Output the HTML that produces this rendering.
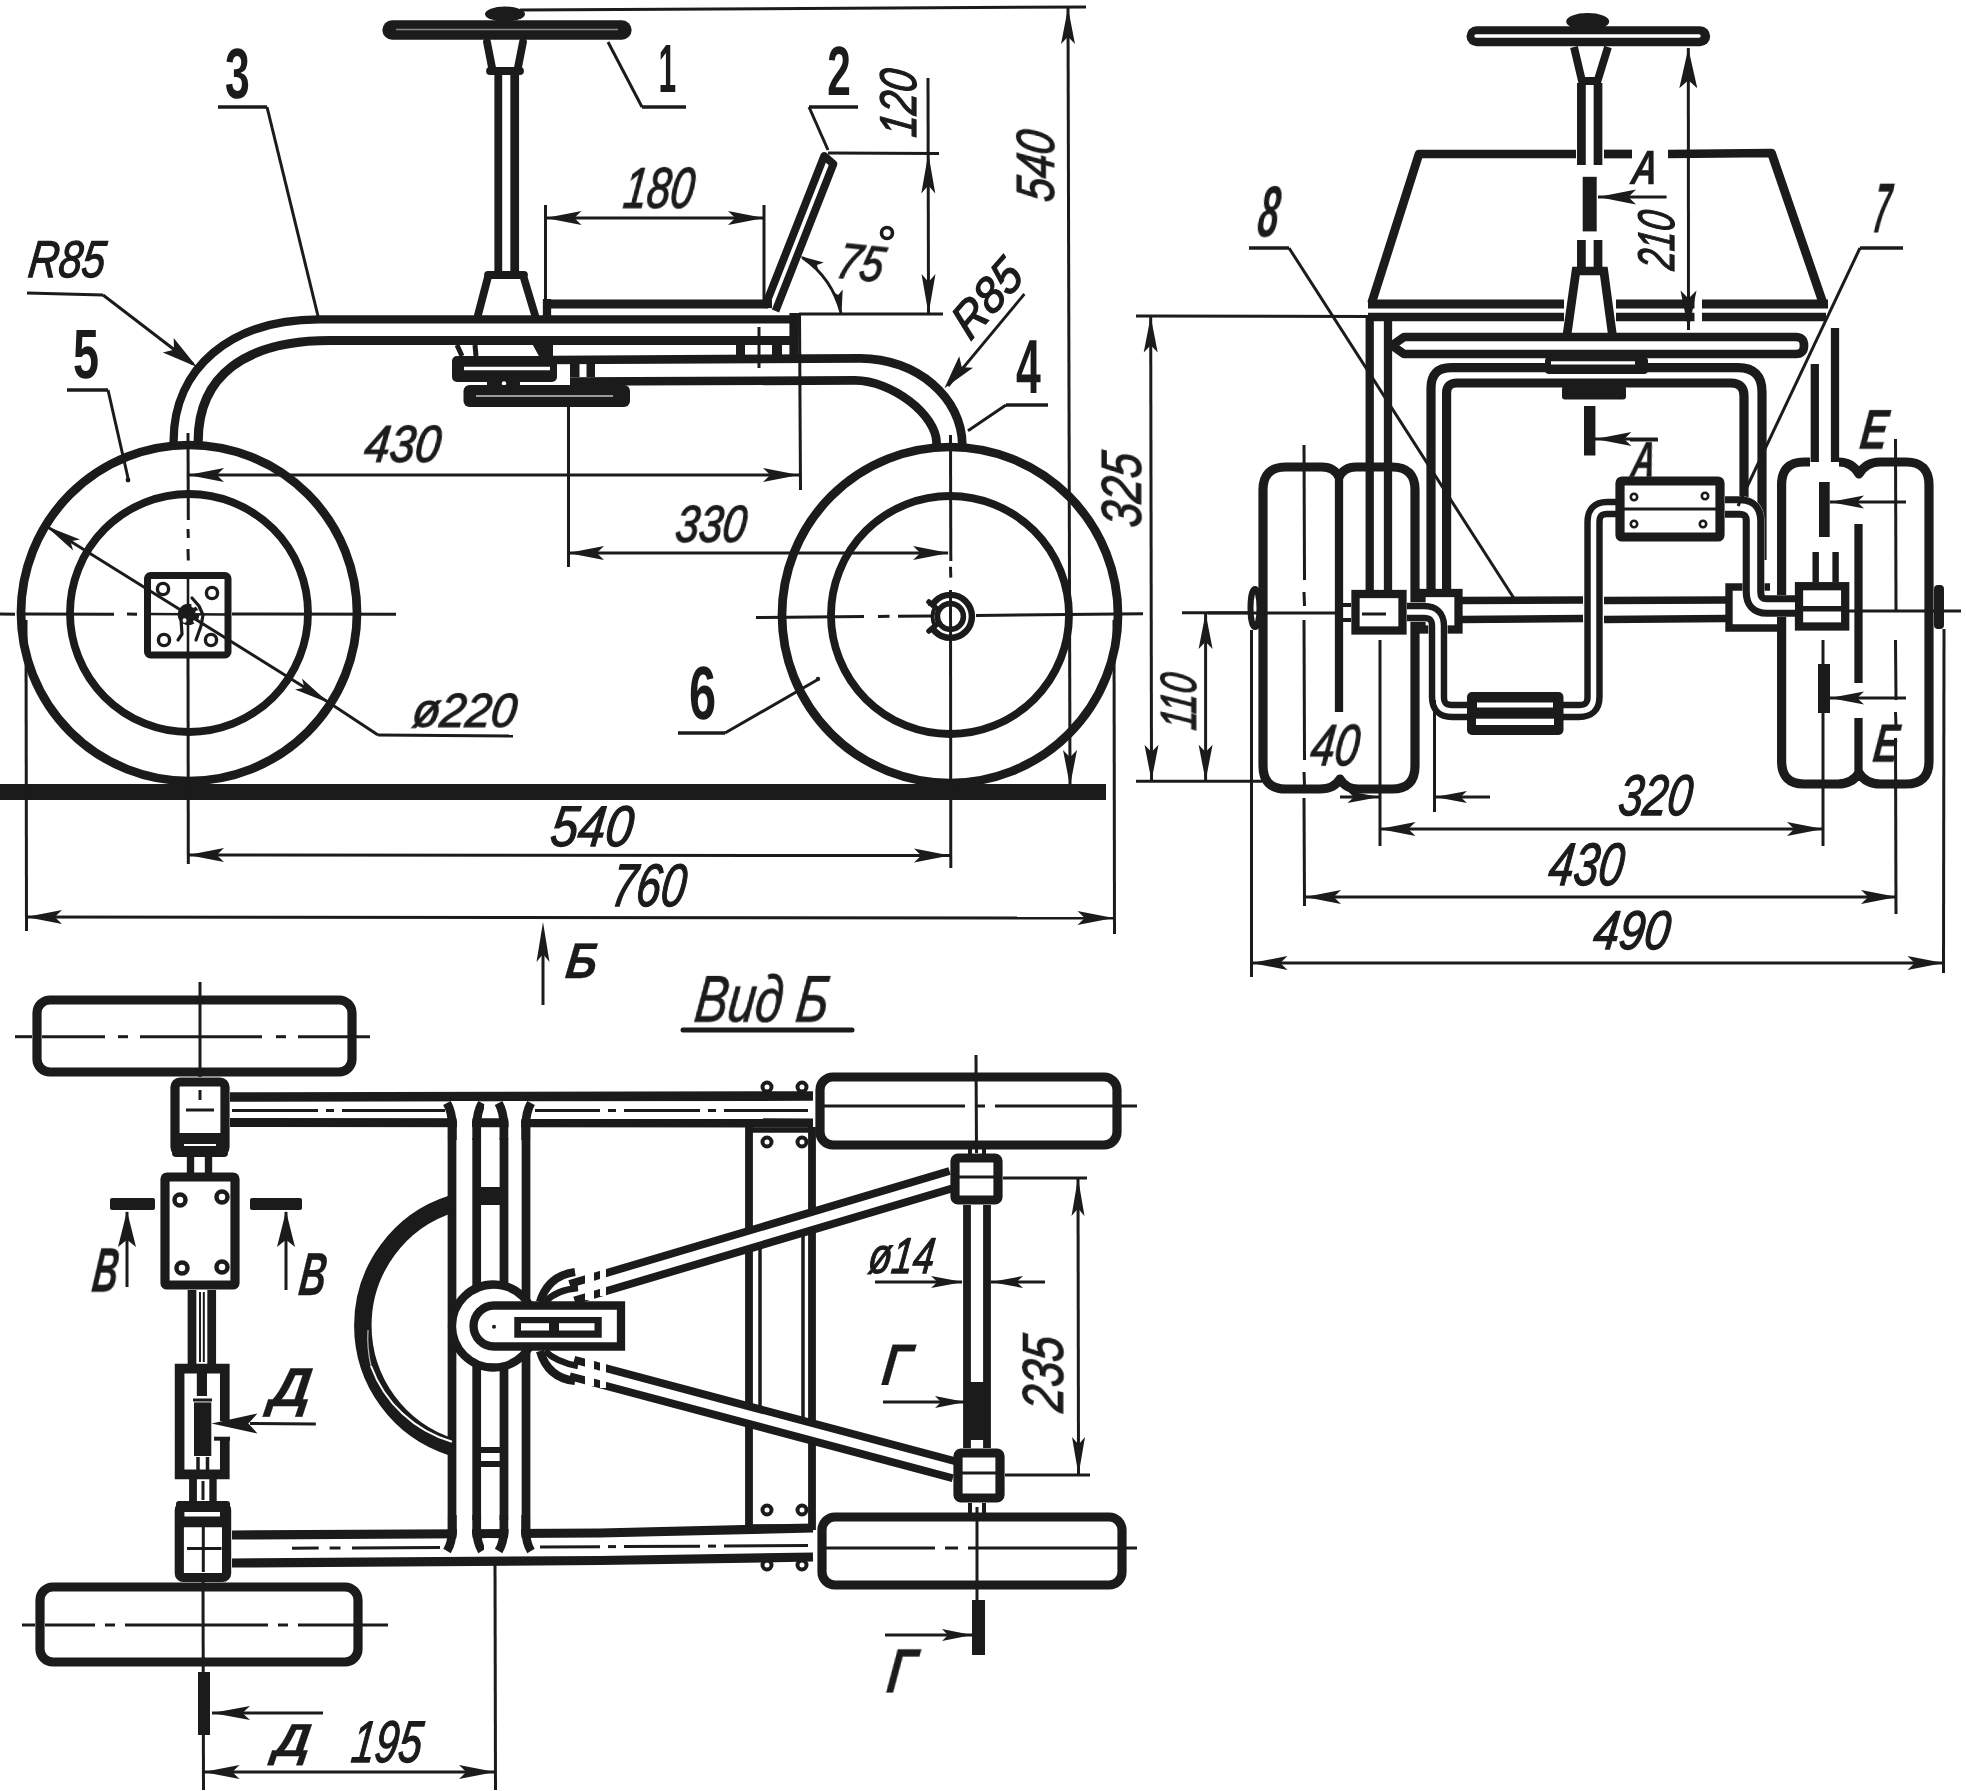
<!DOCTYPE html>
<html><head><meta charset="utf-8"><title>Drawing</title>
<style>
html,body{margin:0;padding:0;background:#fff;}
svg{display:block;font-family:"Liberation Sans",sans-serif;}
text{text-rendering:geometricPrecision;}
g.t{filter:grayscale(1);}
text{fill:#1b1b1b;}
</style></head>
<body>
<svg width="1966" height="1791" viewBox="0 0 1966 1791">
<rect width="1966" height="1791" fill="#fff"/>
<rect x="0.0" y="784.0" width="1106.0" height="16.0" rx="0" fill="#1b1b1b"/>
<circle cx="189.0" cy="613.0" r="168.0" fill="none" stroke="#1b1b1b" stroke-width="8.74"/>
<circle cx="189.0" cy="613.0" r="119.0" fill="none" stroke="#1b1b1b" stroke-width="7.82"/>
<circle cx="950.0" cy="615.0" r="168.0" fill="none" stroke="#1b1b1b" stroke-width="8.74"/>
<circle cx="950.0" cy="615.0" r="119.0" fill="none" stroke="#1b1b1b" stroke-width="7.82"/>
<rect x="147.5" y="575.5" width="80.5" height="79.5" rx="3" fill="none" stroke="#1b1b1b" stroke-width="6.99"/>
<circle cx="163.0" cy="589.0" r="5.6" fill="none" stroke="#1b1b1b" stroke-width="3.4"/>
<circle cx="212.0" cy="593.0" r="5.6" fill="none" stroke="#1b1b1b" stroke-width="3.4"/>
<circle cx="164.0" cy="640.0" r="5.6" fill="none" stroke="#1b1b1b" stroke-width="3.4"/>
<circle cx="211.0" cy="640.0" r="5.6" fill="none" stroke="#1b1b1b" stroke-width="3.4"/>
<circle cx="188.5" cy="614.5" r="8.0" fill="#1b1b1b" stroke="#1b1b1b" stroke-width="5.52"/>
<circle cx="193.5" cy="605.5" r="2.2" fill="#fff" stroke="none" stroke-width="0"/>
<circle cx="197.5" cy="612.5" r="2.2" fill="#fff" stroke="none" stroke-width="0"/>
<circle cx="195.5" cy="621.5" r="2.2" fill="#fff" stroke="none" stroke-width="0"/>
<circle cx="184.5" cy="620.5" r="2.2" fill="#fff" stroke="none" stroke-width="0"/>
<path d="M192 598 L199 606 L203 615 L201 626 L196 640" fill="none" stroke="#1b1b1b" stroke-width="3.2" stroke-linejoin="round" stroke-linecap="round"/>
<path d="M181 620 L182 634 L178 640" fill="none" stroke="#1b1b1b" stroke-width="3.2" stroke-linejoin="round" stroke-linecap="round"/>
<circle cx="950.4" cy="616.4" r="21.5" fill="none" stroke="#1b1b1b" stroke-width="6.44"/>
<circle cx="950.4" cy="616.4" r="13.0" fill="none" stroke="#1b1b1b" stroke-width="5.52"/>
<rect x="923.0" y="606.0" width="10.5" height="22.0" rx="0" fill="#fff"/>
<path d="M929 602 L936 608 M929 631 L936 625" fill="none" stroke="#1b1b1b" stroke-width="5.52" stroke-linejoin="round" stroke-linecap="round"/>
<path d="M935 607 Q930 616.5 935 626" fill="none" stroke="#1b1b1b" stroke-width="4" stroke-linejoin="round" stroke-linecap="round"/>
<line x1="0.0" y1="614.0" x2="15.0" y2="614.3" stroke="#1b1b1b" stroke-width="3.0" stroke-linecap="butt"/>
<line x1="25.0" y1="614.0" x2="114.0" y2="614.3" stroke="#1b1b1b" stroke-width="3.0" stroke-linecap="butt"/>
<line x1="127.0" y1="614.0" x2="137.0" y2="614.3" stroke="#1b1b1b" stroke-width="3.0" stroke-linecap="butt"/>
<line x1="232.0" y1="614.0" x2="396.0" y2="614.3" stroke="#1b1b1b" stroke-width="3.0" stroke-linecap="butt"/>
<line x1="188.0" y1="433.0" x2="188.3" y2="520.0" stroke="#1b1b1b" stroke-width="3.0" stroke-linecap="butt"/>
<line x1="188.0" y1="529.0" x2="188.3" y2="538.0" stroke="#1b1b1b" stroke-width="3.0" stroke-linecap="butt"/>
<line x1="188.0" y1="549.0" x2="188.3" y2="560.5" stroke="#1b1b1b" stroke-width="3.0" stroke-linecap="butt"/>
<line x1="188.0" y1="655.0" x2="188.3" y2="864.0" stroke="#1b1b1b" stroke-width="3.0" stroke-linecap="butt"/>
<line x1="148.0" y1="614.0" x2="228.0" y2="614.5" stroke="#1b1b1b" stroke-width="2.6" stroke-linecap="butt"/>
<line x1="188.0" y1="576.0" x2="188.0" y2="655.0" stroke="#1b1b1b" stroke-width="2.6" stroke-linecap="butt"/>
<line x1="756.0" y1="617.6" x2="864.0" y2="616.5" stroke="#1b1b1b" stroke-width="3.0" stroke-linecap="butt"/>
<line x1="878.0" y1="616.4" x2="889.5" y2="616.3" stroke="#1b1b1b" stroke-width="3.0" stroke-linecap="butt"/>
<line x1="898.0" y1="616.2" x2="932.0" y2="615.9" stroke="#1b1b1b" stroke-width="3.0" stroke-linecap="butt"/>
<line x1="976.0" y1="615.4" x2="1143.0" y2="613.8" stroke="#1b1b1b" stroke-width="3.0" stroke-linecap="butt"/>
<line x1="950.5" y1="435.0" x2="950.8" y2="561.0" stroke="#1b1b1b" stroke-width="3.0" stroke-linecap="butt"/>
<line x1="950.5" y1="566.7" x2="950.8" y2="577.6" stroke="#1b1b1b" stroke-width="3.0" stroke-linecap="butt"/>
<line x1="950.5" y1="590.0" x2="950.8" y2="868.0" stroke="#1b1b1b" stroke-width="3.0" stroke-linecap="butt"/>
<line x1="46.0" y1="526.0" x2="328.0" y2="702.0" stroke="#1b1b1b" stroke-width="3" stroke-linecap="butt"/>
<line x1="328.0" y1="702.0" x2="378.0" y2="735.0" stroke="#1b1b1b" stroke-width="3" stroke-linecap="butt"/>
<line x1="378.0" y1="735.0" x2="513.0" y2="736.0" stroke="#1b1b1b" stroke-width="3" stroke-linecap="butt"/>
<polygon points="46.0,526.0 80.0,539.5 70.4,541.2 73.1,550.6" fill="#1b1b1b"/>
<polygon points="329.0,703.0 295.0,689.5 304.6,687.8 301.9,678.4" fill="#1b1b1b"/>
<line x1="392.0" y1="30.0" x2="622.0" y2="30.0" stroke="#1b1b1b" stroke-width="19.32" stroke-linecap="round"/>
<line x1="396.0" y1="29.5" x2="618.0" y2="29.5" stroke="#8a8a8a" stroke-width="1.6" stroke-linecap="butt"/>
<ellipse cx="505.0" cy="14.0" rx="20.0" ry="7.5" fill="#1b1b1b" stroke="#1b1b1b" stroke-width="0"/>
<path d="M487 42 L492.5 70 M523 42 L517.5 70 M490 71 L520 71" fill="none" stroke="#1b1b1b" stroke-width="7.82" stroke-linejoin="round" stroke-linecap="round"/>
<line x1="498.3" y1="72.0" x2="498.3" y2="275.0" stroke="#1b1b1b" stroke-width="7.82" stroke-linecap="butt"/>
<line x1="514.7" y1="72.0" x2="514.7" y2="275.0" stroke="#1b1b1b" stroke-width="8.74" stroke-linecap="butt"/>
<path d="M488 275 L524 275 M488.5 275 L478 315 M523 275 L535 315" fill="none" stroke="#1b1b1b" stroke-width="7.82" stroke-linejoin="round" stroke-linecap="round"/>
<path d="M798 319.3 L319 319.3 C231 319.3 173.6 368 173.6 441 L173.6 447" fill="none" stroke="#1b1b1b" stroke-width="8.28" stroke-linejoin="round" stroke-linecap="butt"/>
<path d="M790 340.5 L330 340.5 C245 340.5 198.2 376 198.2 441 L198.2 447" fill="none" stroke="#1b1b1b" stroke-width="9.2" stroke-linejoin="round" stroke-linecap="butt"/>
<line x1="794.0" y1="313.0" x2="794.0" y2="359.0" stroke="#1b1b1b" stroke-width="9.2" stroke-linecap="butt"/>
<line x1="547.0" y1="299.0" x2="547.0" y2="318.0" stroke="#1b1b1b" stroke-width="8.28" stroke-linecap="butt"/>
<line x1="545.0" y1="304.0" x2="768.0" y2="304.0" stroke="#1b1b1b" stroke-width="9.2" stroke-linecap="butt"/>
<path d="M766.3 303 L824.2 156 L833.4 164 L775.5 311" fill="none" stroke="#1b1b1b" stroke-width="7.82" stroke-linejoin="round" stroke-linecap="butt"/>
<path d="M764 304 L772 304" fill="none" stroke="#1b1b1b" stroke-width="8.28" stroke-linejoin="round" stroke-linecap="butt"/>
<path d="M552 360 L860 358.3 C916.5 358.3 962.3 397.3 962.3 445.3 L962.3 449" fill="none" stroke="#1b1b1b" stroke-width="8.74" stroke-linejoin="round" stroke-linecap="butt"/>
<path d="M570 381.5 L855 380.4 C891.7 380.4 936.6 414.8 936.6 443 L936.6 449" fill="none" stroke="#1b1b1b" stroke-width="8.74" stroke-linejoin="round" stroke-linecap="butt"/>
<rect x="736.0" y="344.0" width="9.0" height="12.0" rx="0" fill="#1b1b1b"/>
<rect x="772.0" y="344.0" width="10.0" height="12.0" rx="0" fill="#1b1b1b"/>
<line x1="759.0" y1="327.0" x2="759.0" y2="368.0" stroke="#1b1b1b" stroke-width="3" stroke-linecap="butt"/>
<rect x="570.0" y="364.0" width="9.5" height="13.0" rx="0" fill="#1b1b1b"/>
<rect x="586.5" y="364.0" width="8.5" height="13.0" rx="0" fill="#1b1b1b"/>
<path d="M457 345 L462 356 M475 345 L476 356" fill="none" stroke="#1b1b1b" stroke-width="5" stroke-linejoin="round" stroke-linecap="butt"/>
<path d="M534 345 L552 345 L552 356 L540 356 Z" fill="#1b1b1b" stroke="#1b1b1b" stroke-width="2" stroke-linejoin="round" stroke-linecap="round"/>
<rect x="452.0" y="356.0" width="105.0" height="26.0" rx="5" fill="#1b1b1b"/>
<line x1="464.0" y1="368.5" x2="550.0" y2="368.5" stroke="#fff" stroke-width="3.4" stroke-linecap="butt"/>
<rect x="487.0" y="381.0" width="33.0" height="6.0" rx="0" fill="#1b1b1b"/>
<circle cx="504.0" cy="383.5" r="2.2" fill="#fff" stroke="none" stroke-width="0"/>
<rect x="463.5" y="385.0" width="166.5" height="22.0" rx="6" fill="#1b1b1b"/>
<line x1="476.0" y1="396.0" x2="613.0" y2="396.0" stroke="#9a9a9a" stroke-width="1.8" stroke-linecap="butt"/>
<line x1="188.0" y1="475.0" x2="799.0" y2="475.0" stroke="#1b1b1b" stroke-width="3.0" stroke-linecap="butt"/>
<polygon points="188.0,475.0 224.0,468.0 216.8,475.0 224.0,482.0" fill="#1b1b1b"/>
<polygon points="799.0,475.0 763.0,482.0 770.2,475.0 763.0,468.0" fill="#1b1b1b"/>
<line x1="799.5" y1="313.0" x2="800.5" y2="490.0" stroke="#1b1b1b" stroke-width="3.0" stroke-linecap="butt"/>
<line x1="568.5" y1="405.0" x2="568.5" y2="567.0" stroke="#1b1b1b" stroke-width="3.0" stroke-linecap="butt"/>
<line x1="568.0" y1="553.0" x2="948.0" y2="553.0" stroke="#1b1b1b" stroke-width="3.0" stroke-linecap="butt"/>
<polygon points="568.0,553.0 604.0,546.0 596.8,553.0 604.0,560.0" fill="#1b1b1b"/>
<polygon points="949.0,553.0 913.0,560.0 920.2,553.0 913.0,546.0" fill="#1b1b1b"/>
<line x1="545.5" y1="205.0" x2="545.5" y2="300.0" stroke="#1b1b1b" stroke-width="3.0" stroke-linecap="butt"/>
<line x1="764.0" y1="205.0" x2="764.0" y2="300.0" stroke="#1b1b1b" stroke-width="3.0" stroke-linecap="butt"/>
<line x1="545.0" y1="218.0" x2="764.0" y2="218.0" stroke="#1b1b1b" stroke-width="3.0" stroke-linecap="butt"/>
<polygon points="545.5,218.0 581.5,211.0 574.3,218.0 581.5,225.0" fill="#1b1b1b"/>
<polygon points="764.0,218.0 728.0,225.0 735.2,218.0 728.0,211.0" fill="#1b1b1b"/>
<line x1="188.0" y1="855.0" x2="950.0" y2="855.5" stroke="#1b1b1b" stroke-width="3.0" stroke-linecap="butt"/>
<polygon points="188.0,855.0 224.0,848.0 216.8,855.0 224.0,862.0" fill="#1b1b1b"/>
<polygon points="950.0,855.5 914.0,862.5 921.2,855.5 914.0,848.5" fill="#1b1b1b"/>
<line x1="26.0" y1="620.0" x2="26.5" y2="931.0" stroke="#1b1b1b" stroke-width="3.0" stroke-linecap="butt"/>
<line x1="1114.0" y1="620.0" x2="1114.5" y2="934.0" stroke="#1b1b1b" stroke-width="3.0" stroke-linecap="butt"/>
<line x1="26.0" y1="917.0" x2="1113.0" y2="918.0" stroke="#1b1b1b" stroke-width="3.0" stroke-linecap="butt"/>
<polygon points="26.0,917.0 62.0,910.0 54.8,917.0 62.0,924.0" fill="#1b1b1b"/>
<polygon points="1113.5,918.0 1077.5,925.0 1084.7,918.0 1077.5,911.0" fill="#1b1b1b"/>
<line x1="520.0" y1="10.0" x2="1086.0" y2="7.0" stroke="#1b1b1b" stroke-width="3.0" stroke-linecap="butt"/>
<line x1="1068.0" y1="8.0" x2="1070.0" y2="786.0" stroke="#1b1b1b" stroke-width="3.0" stroke-linecap="butt"/>
<polygon points="1068.0,8.0 1075.0,44.0 1068.0,36.8 1061.0,44.0" fill="#1b1b1b"/>
<polygon points="1070.0,786.0 1063.0,750.0 1070.0,757.2 1077.0,750.0" fill="#1b1b1b"/>
<line x1="828.0" y1="153.0" x2="939.0" y2="153.5" stroke="#1b1b1b" stroke-width="3.0" stroke-linecap="butt"/>
<line x1="799.0" y1="314.0" x2="943.0" y2="314.0" stroke="#1b1b1b" stroke-width="3.0" stroke-linecap="butt"/>
<line x1="928.0" y1="78.0" x2="928.5" y2="314.0" stroke="#1b1b1b" stroke-width="3.0" stroke-linecap="butt"/>
<polygon points="928.3,153.5 935.3,193.5 928.3,185.5 921.3,193.5" fill="#1b1b1b"/>
<polygon points="928.5,314.0 921.5,274.0 928.5,282.0 935.5,274.0" fill="#1b1b1b"/>
<path d="M803 258 Q832 278 841 313" fill="none" stroke="#1b1b1b" stroke-width="2.8" stroke-linejoin="round" stroke-linecap="round"/>
<polygon points="800.0,256.0 823.8,262.4 817.0,265.0 818.6,272.1" fill="#1b1b1b"/>
<polygon points="841.5,314.0 831.9,291.3 838.2,295.1 842.7,289.4" fill="#1b1b1b"/>
<circle cx="887.0" cy="233.0" r="5.5" fill="none" stroke="#1b1b1b" stroke-width="3.6"/>
<line x1="1024.4" y1="294.0" x2="948.0" y2="386.0" stroke="#1b1b1b" stroke-width="2.8" stroke-linecap="butt"/>
<polygon points="944.4,388.2 959.2,356.3 961.8,367.3 973.0,367.8" fill="#1b1b1b"/>
<line x1="27.0" y1="293.0" x2="103.0" y2="295.0" stroke="#1b1b1b" stroke-width="3" stroke-linecap="butt"/>
<line x1="103.0" y1="295.0" x2="193.0" y2="364.0" stroke="#1b1b1b" stroke-width="3" stroke-linecap="butt"/>
<polygon points="197.0,367.0 162.8,352.5 174.0,349.7 173.7,338.1" fill="#1b1b1b"/>
<line x1="218.0" y1="107.0" x2="267.0" y2="107.0" stroke="#1b1b1b" stroke-width="3.4" stroke-linecap="butt"/>
<line x1="267.0" y1="107.0" x2="318.0" y2="316.0" stroke="#1b1b1b" stroke-width="3" stroke-linecap="butt"/>
<line x1="67.0" y1="390.0" x2="108.0" y2="390.0" stroke="#1b1b1b" stroke-width="3.4" stroke-linecap="butt"/>
<line x1="108.0" y1="390.0" x2="128.0" y2="478.0" stroke="#1b1b1b" stroke-width="3" stroke-linecap="butt"/>
<circle cx="128.0" cy="480.0" r="2.4" fill="#1b1b1b" stroke="#1b1b1b" stroke-width="0"/>
<line x1="642.0" y1="107.0" x2="686.0" y2="107.0" stroke="#1b1b1b" stroke-width="3.4" stroke-linecap="butt"/>
<line x1="642.0" y1="107.0" x2="608.0" y2="42.0" stroke="#1b1b1b" stroke-width="3" stroke-linecap="butt"/>
<line x1="809.0" y1="107.0" x2="858.0" y2="107.0" stroke="#1b1b1b" stroke-width="3.4" stroke-linecap="butt"/>
<line x1="809.0" y1="107.0" x2="828.0" y2="150.0" stroke="#1b1b1b" stroke-width="3" stroke-linecap="butt"/>
<line x1="1006.0" y1="405.0" x2="1048.0" y2="405.0" stroke="#1b1b1b" stroke-width="3.4" stroke-linecap="butt"/>
<line x1="1006.0" y1="405.0" x2="968.0" y2="430.7" stroke="#1b1b1b" stroke-width="3" stroke-linecap="butt"/>
<line x1="678.0" y1="733.0" x2="725.0" y2="733.0" stroke="#1b1b1b" stroke-width="3.4" stroke-linecap="butt"/>
<line x1="725.0" y1="733.0" x2="817.0" y2="680.0" stroke="#1b1b1b" stroke-width="3" stroke-linecap="butt"/>
<circle cx="818.0" cy="679.0" r="2.2" fill="#1b1b1b" stroke="#1b1b1b" stroke-width="0"/>
<line x1="1136.0" y1="316.0" x2="1368.0" y2="316.5" stroke="#1b1b1b" stroke-width="3.0" stroke-linecap="butt"/>
<line x1="1150.7" y1="317.0" x2="1151.5" y2="780.0" stroke="#1b1b1b" stroke-width="3.0" stroke-linecap="butt"/>
<polygon points="1150.7,316.5 1157.7,352.5 1150.7,345.3 1143.7,352.5" fill="#1b1b1b"/>
<polygon points="1151.5,780.8 1144.5,744.8 1151.5,752.0 1158.5,744.8" fill="#1b1b1b"/>
<line x1="1182.0" y1="612.7" x2="1248.0" y2="612.7" stroke="#1b1b1b" stroke-width="3.0" stroke-linecap="butt"/>
<line x1="1136.0" y1="781.3" x2="1262.0" y2="781.3" stroke="#1b1b1b" stroke-width="3.0" stroke-linecap="butt"/>
<line x1="1205.6" y1="614.0" x2="1205.6" y2="780.0" stroke="#1b1b1b" stroke-width="3.0" stroke-linecap="butt"/>
<polygon points="1205.6,613.0 1212.6,649.0 1205.6,641.8 1198.6,649.0" fill="#1b1b1b"/>
<polygon points="1205.6,780.8 1198.6,744.8 1205.6,752.0 1212.6,744.8" fill="#1b1b1b"/>
<line x1="1476.5" y1="36.2" x2="1700.2" y2="36.2" stroke="#1b1b1b" stroke-width="19.87" stroke-linecap="round"/>
<line x1="1476.0" y1="36.0" x2="1699.0" y2="36.0" stroke="#fff" stroke-width="3.4" stroke-linecap="round"/>
<ellipse cx="1587.7" cy="21.5" rx="21.5" ry="8.5" fill="#1b1b1b" stroke="#1b1b1b" stroke-width="0"/>
<path d="M1574 47 L1582 81 L1597.5 81 L1608 47" fill="none" stroke="#1b1b1b" stroke-width="7.82" stroke-linejoin="miter" stroke-linecap="butt"/>
<path d="M1581.4 83 L1581.4 165 M1598 83 L1598 165" fill="none" stroke="#1b1b1b" stroke-width="8.74" stroke-linejoin="round" stroke-linecap="butt"/>
<rect x="1582.7" y="176.8" width="14.0" height="54.6" rx="0" fill="#1b1b1b"/>
<path d="M1581.4 240 L1581.4 270 M1598 240 L1598 270" fill="none" stroke="#1b1b1b" stroke-width="8.74" stroke-linejoin="round" stroke-linecap="butt"/>
<path d="M1566.7 337 L1576 271 L1603.8 271 L1612.7 337" fill="none" stroke="#1b1b1b" stroke-width="8.74" stroke-linejoin="miter" stroke-linecap="butt"/>
<path d="M1576 154 L1419 154 L1371.6 303" fill="none" stroke="#1b1b1b" stroke-width="8.74" stroke-linejoin="round" stroke-linecap="butt"/>
<line x1="1604.0" y1="154.0" x2="1632.0" y2="154.0" stroke="#1b1b1b" stroke-width="8.74" stroke-linecap="butt"/>
<path d="M1668 154 L1771.5 153 L1823 303" fill="none" stroke="#1b1b1b" stroke-width="8.74" stroke-linejoin="round" stroke-linecap="butt"/>
<line x1="1368.0" y1="304.0" x2="1564.0" y2="304.0" stroke="#1b1b1b" stroke-width="9.2" stroke-linecap="butt"/>
<line x1="1616.0" y1="304.0" x2="1694.5" y2="304.0" stroke="#1b1b1b" stroke-width="9.2" stroke-linecap="butt"/>
<line x1="1702.0" y1="304.0" x2="1828.0" y2="304.0" stroke="#1b1b1b" stroke-width="9.2" stroke-linecap="butt"/>
<line x1="1368.0" y1="317.0" x2="1564.0" y2="317.0" stroke="#1b1b1b" stroke-width="8.74" stroke-linecap="butt"/>
<line x1="1616.0" y1="317.0" x2="1694.5" y2="317.0" stroke="#1b1b1b" stroke-width="8.74" stroke-linecap="butt"/>
<line x1="1702.0" y1="317.0" x2="1826.0" y2="317.0" stroke="#1b1b1b" stroke-width="8.74" stroke-linecap="butt"/>
<path d="M1392 345.5 L1404 337 L1796 337 Q1804 337 1804 345.5 Q1804 354 1796 354 L1404 354 Z" fill="none" stroke="#1b1b1b" stroke-width="8.74" stroke-linejoin="round" stroke-linecap="round"/>
<path d="M1369.7 316 L1369.7 591 M1388 320 L1388 591" fill="none" stroke="#1b1b1b" stroke-width="8.28" stroke-linejoin="round" stroke-linecap="butt"/>
<path d="M1814.8 364 L1814.8 462 M1835 328 L1835 462" fill="none" stroke="#1b1b1b" stroke-width="8.28" stroke-linejoin="round" stroke-linecap="butt"/>
<path d="M1431 591 L1431 388 Q1431 367.7 1451 367.7 L1738 367.7 Q1762 367.7 1762 392 L1762 560" fill="none" stroke="#1b1b1b" stroke-width="9.2" stroke-linejoin="round" stroke-linecap="butt"/>
<path d="M1446.6 591 L1446.6 393 Q1446.6 383 1457 383 L1731 383 Q1744 383 1744 396 L1744 500" fill="none" stroke="#1b1b1b" stroke-width="9.2" stroke-linejoin="round" stroke-linecap="butt"/>
<rect x="1545.0" y="357.0" width="103.0" height="17.0" rx="4" fill="#1b1b1b"/>
<line x1="1551.0" y1="362.8" x2="1635.0" y2="362.8" stroke="#fff" stroke-width="3.2" stroke-linecap="butt"/>
<rect x="1562.0" y="386.0" width="64.0" height="13.5" rx="3" fill="#1b1b1b"/>
<rect x="1584.0" y="406.0" width="11.4" height="49.5" rx="0" fill="#1b1b1b"/>
<line x1="1595.0" y1="439.0" x2="1657.7" y2="439.0" stroke="#1b1b1b" stroke-width="3" stroke-linecap="butt"/>
<polygon points="1595.4,439.0 1631.4,432.0 1624.2,439.0 1631.4,446.0" fill="#1b1b1b"/>
<line x1="1630.0" y1="440.0" x2="1658.0" y2="440.0" stroke="#1b1b1b" stroke-width="3" stroke-linecap="butt"/>
<line x1="1598.0" y1="197.0" x2="1666.6" y2="197.0" stroke="#1b1b1b" stroke-width="3" stroke-linecap="butt"/>
<polygon points="1598.0,197.0 1636.0,189.5 1628.4,197.0 1636.0,204.5" fill="#1b1b1b"/>
<line x1="1688.3" y1="48.0" x2="1688.5" y2="330.0" stroke="#1b1b1b" stroke-width="3.0" stroke-linecap="butt"/>
<polygon points="1688.3,48.3 1697.3,88.3 1688.3,80.3 1679.3,88.3" fill="#1b1b1b"/>
<polygon points="1688.5,330.6 1680.5,290.6 1688.5,298.6 1696.5,290.6" fill="#1b1b1b"/>
<path d="M1263 490 Q1263 467 1286 467 L1322 467 Q1334 467 1339 477 Q1344 467 1356 467 L1392 467 Q1415 467 1415 490 L1415 766 Q1415 789 1392 789 L1358 789 Q1346 789 1340 779 Q1334 789 1320 789 L1286 789 Q1263 789 1263 766 Z" fill="none" stroke="#1b1b1b" stroke-width="9.2" stroke-linejoin="round" stroke-linecap="round"/>
<line x1="1339.0" y1="476.0" x2="1339.0" y2="712.0" stroke="#1b1b1b" stroke-width="8.28" stroke-linecap="butt"/>
<path d="M1810 462 L1804 462 Q1781.6 462 1781.6 485 L1781.6 761 Q1781.6 784 1804 784 L1838 784 Q1852 784 1859 773 Q1866 784 1880 784 L1906 784 Q1929 784 1929 761 L1929 485 Q1929 462 1906 462 L1880 462 Q1866 462 1859 474 Q1852 462 1839 462" fill="none" stroke="#1b1b1b" stroke-width="9.2" stroke-linejoin="round" stroke-linecap="butt"/>
<line x1="1858.5" y1="524.0" x2="1858.5" y2="683.0" stroke="#1b1b1b" stroke-width="8.28" stroke-linecap="butt"/>
<line x1="1858.5" y1="718.0" x2="1858.5" y2="776.0" stroke="#1b1b1b" stroke-width="8.28" stroke-linecap="butt"/>
<line x1="1304.0" y1="445.0" x2="1304.5" y2="580.0" stroke="#1b1b1b" stroke-width="3.0" stroke-linecap="butt"/>
<line x1="1304.0" y1="592.0" x2="1304.5" y2="606.0" stroke="#1b1b1b" stroke-width="3.0" stroke-linecap="butt"/>
<line x1="1304.0" y1="620.0" x2="1304.5" y2="760.0" stroke="#1b1b1b" stroke-width="3.0" stroke-linecap="butt"/>
<line x1="1304.0" y1="772.0" x2="1304.5" y2="786.0" stroke="#1b1b1b" stroke-width="3.0" stroke-linecap="butt"/>
<line x1="1304.0" y1="798.0" x2="1304.5" y2="906.0" stroke="#1b1b1b" stroke-width="3.0" stroke-linecap="butt"/>
<line x1="1895.5" y1="439.0" x2="1896.0" y2="612.0" stroke="#1b1b1b" stroke-width="3.0" stroke-linecap="butt"/>
<line x1="1895.5" y1="640.0" x2="1896.0" y2="700.0" stroke="#1b1b1b" stroke-width="3.0" stroke-linecap="butt"/>
<line x1="1895.5" y1="712.0" x2="1896.0" y2="726.0" stroke="#1b1b1b" stroke-width="3.0" stroke-linecap="butt"/>
<line x1="1895.5" y1="738.0" x2="1896.0" y2="914.0" stroke="#1b1b1b" stroke-width="3.0" stroke-linecap="butt"/>
<line x1="1208.0" y1="613.0" x2="1339.0" y2="613.0" stroke="#1b1b1b" stroke-width="3.0" stroke-linecap="butt"/>
<line x1="1849.0" y1="611.0" x2="1961.0" y2="611.0" stroke="#1b1b1b" stroke-width="3.0" stroke-linecap="butt"/>
<ellipse cx="1255.0" cy="608.0" rx="4.5" ry="19.0" fill="none" stroke="#1b1b1b" stroke-width="6"/>
<rect x="1934.0" y="585.0" width="10.0" height="44.0" rx="4" fill="#1b1b1b"/>
<line x1="1461.0" y1="600.5" x2="1583.0" y2="600.0" stroke="#1b1b1b" stroke-width="7.36" stroke-linecap="butt"/>
<line x1="1461.0" y1="619.5" x2="1583.0" y2="618.5" stroke="#1b1b1b" stroke-width="7.36" stroke-linecap="butt"/>
<line x1="1604.0" y1="600.5" x2="1726.0" y2="600.0" stroke="#1b1b1b" stroke-width="7.36" stroke-linecap="butt"/>
<line x1="1604.0" y1="619.5" x2="1726.0" y2="618.5" stroke="#1b1b1b" stroke-width="7.36" stroke-linecap="butt"/>
<rect x="1355.5" y="594.0" width="47.0" height="36.5" rx="0" fill="none" stroke="#1b1b1b" stroke-width="8.28"/>
<line x1="1362.0" y1="614.0" x2="1386.0" y2="614.0" stroke="#1b1b1b" stroke-width="3" stroke-linecap="butt"/>
<line x1="1339.0" y1="605.0" x2="1351.0" y2="605.0" stroke="#1b1b1b" stroke-width="4" stroke-linecap="butt"/>
<line x1="1339.0" y1="620.0" x2="1351.0" y2="620.0" stroke="#1b1b1b" stroke-width="4" stroke-linecap="butt"/>
<rect x="1421.5" y="593.0" width="37.0" height="36.5" rx="0" fill="none" stroke="#1b1b1b" stroke-width="8.28"/>
<path d="M1770 587 L1729 587 L1729 628 L1777 628" fill="none" stroke="#1b1b1b" stroke-width="7.36" stroke-linejoin="miter" stroke-linecap="butt"/>
<rect x="1799.0" y="586.2" width="46.2" height="40.3" rx="0" fill="none" stroke="#1b1b1b" stroke-width="8.28"/>
<line x1="1800.0" y1="608.7" x2="1845.0" y2="608.7" stroke="#1b1b1b" stroke-width="5.52" stroke-linecap="butt"/>
<path d="M1815.7 552 L1815.7 582 M1835.6 552 L1835.6 582" fill="none" stroke="#1b1b1b" stroke-width="6.44" stroke-linejoin="round" stroke-linecap="butt"/>
<path d="M1407 612 L1424 612 Q1438 612 1438 626 L1438 697 Q1438 711 1452 711 L1579 711 Q1593.5 711 1593.5 697 L1593.5 522 Q1593.5 508 1607 508 L1617 508" fill="none" stroke="#fff" stroke-width="19.32" stroke-linejoin="round" stroke-linecap="butt"/>
<path d="M1407 612 L1424 612 Q1438 612 1438 626 L1438 697 Q1438 711 1452 711 L1579 711 Q1593.5 711 1593.5 697 L1593.5 522 Q1593.5 508 1607 508 L1617 508" fill="none" stroke="#1b1b1b" stroke-width="18.4" stroke-linejoin="round" stroke-linecap="butt"/>
<path d="M1407 612 L1424 612 Q1438 612 1438 626 L1438 697 Q1438 711 1452 711 L1579 711 Q1593.5 711 1593.5 697 L1593.5 522 Q1593.5 508 1607 508 L1617 508" fill="none" stroke="#fff" stroke-width="5.52" stroke-linejoin="round" stroke-linecap="butt"/>
<path d="M1725 507 L1740 507 Q1753.5 507 1753.5 521 L1753.5 592 Q1753.5 606 1767 606 L1795 606" fill="none" stroke="#fff" stroke-width="22.08" stroke-linejoin="round" stroke-linecap="butt"/>
<path d="M1725 507 L1740 507 Q1753.5 507 1753.5 521 L1753.5 592 Q1753.5 606 1767 606 L1795 606" fill="none" stroke="#1b1b1b" stroke-width="21.62" stroke-linejoin="round" stroke-linecap="butt"/>
<path d="M1725 507 L1740 507 Q1753.5 507 1753.5 521 L1753.5 592 Q1753.5 606 1767 606 L1795 606" fill="none" stroke="#fff" stroke-width="7.36" stroke-linejoin="round" stroke-linecap="butt"/>
<rect x="1467.0" y="692.0" width="96.5" height="43.0" rx="5" fill="#1b1b1b"/>
<rect x="1477.0" y="702.5" width="76.0" height="5.0" rx="0" fill="#fff"/>
<rect x="1476.0" y="718.7" width="78.0" height="6.3" rx="0" fill="#fff"/>
<rect x="1620.0" y="481.0" width="100.0" height="56.0" rx="2" fill="none" stroke="#1b1b1b" stroke-width="9.2"/>
<line x1="1622.0" y1="509.0" x2="1718.0" y2="509.0" stroke="#1b1b1b" stroke-width="3" stroke-linecap="butt"/>
<circle cx="1634.0" cy="497.0" r="3.2" fill="none" stroke="#1b1b1b" stroke-width="2.6"/>
<circle cx="1705.0" cy="496.0" r="3.2" fill="none" stroke="#1b1b1b" stroke-width="2.6"/>
<circle cx="1634.0" cy="524.0" r="3.2" fill="none" stroke="#1b1b1b" stroke-width="2.6"/>
<circle cx="1703.0" cy="524.0" r="3.2" fill="none" stroke="#1b1b1b" stroke-width="2.6"/>
<rect x="1819.0" y="482.0" width="10.7" height="55.0" rx="0" fill="#1b1b1b"/>
<line x1="1830.0" y1="502.0" x2="1906.0" y2="502.0" stroke="#1b1b1b" stroke-width="3" stroke-linecap="butt"/>
<polygon points="1830.0,502.0 1864.0,495.5 1857.2,502.0 1864.0,508.5" fill="#1b1b1b"/>
<rect x="1818.0" y="664.0" width="12.0" height="49.0" rx="0" fill="#1b1b1b"/>
<line x1="1830.0" y1="698.0" x2="1906.0" y2="698.0" stroke="#1b1b1b" stroke-width="3" stroke-linecap="butt"/>
<polygon points="1830.0,698.0 1864.0,691.5 1857.2,698.0 1864.0,704.5" fill="#1b1b1b"/>
<line x1="1860.0" y1="248.0" x2="1903.0" y2="248.0" stroke="#1b1b1b" stroke-width="3.4" stroke-linecap="butt"/>
<line x1="1860.0" y1="248.0" x2="1738.0" y2="506.0" stroke="#1b1b1b" stroke-width="3" stroke-linecap="butt"/>
<line x1="1249.0" y1="248.0" x2="1289.0" y2="248.0" stroke="#1b1b1b" stroke-width="3.4" stroke-linecap="butt"/>
<line x1="1289.0" y1="248.0" x2="1513.6" y2="597.7" stroke="#1b1b1b" stroke-width="3" stroke-linecap="butt"/>
<line x1="1380.0" y1="640.0" x2="1380.0" y2="846.0" stroke="#1b1b1b" stroke-width="3.0" stroke-linecap="butt"/>
<line x1="1434.5" y1="700.0" x2="1434.5" y2="812.0" stroke="#1b1b1b" stroke-width="3.0" stroke-linecap="butt"/>
<line x1="1823.0" y1="640.0" x2="1823.0" y2="846.0" stroke="#1b1b1b" stroke-width="3.0" stroke-linecap="butt"/>
<line x1="1340.0" y1="797.0" x2="1379.0" y2="797.0" stroke="#1b1b1b" stroke-width="3.0" stroke-linecap="butt"/>
<polygon points="1379.5,797.0 1347.5,803.0 1353.9,797.0 1347.5,791.0" fill="#1b1b1b"/>
<line x1="1436.0" y1="797.0" x2="1490.0" y2="797.0" stroke="#1b1b1b" stroke-width="3.0" stroke-linecap="butt"/>
<polygon points="1435.0,797.0 1467.0,791.0 1460.6,797.0 1467.0,803.0" fill="#1b1b1b"/>
<line x1="1379.0" y1="829.0" x2="1823.0" y2="829.0" stroke="#1b1b1b" stroke-width="3.0" stroke-linecap="butt"/>
<polygon points="1379.5,829.0 1415.5,822.0 1408.3,829.0 1415.5,836.0" fill="#1b1b1b"/>
<polygon points="1823.0,829.0 1787.0,836.0 1794.2,829.0 1787.0,822.0" fill="#1b1b1b"/>
<line x1="1305.0" y1="897.0" x2="1897.0" y2="897.0" stroke="#1b1b1b" stroke-width="3.0" stroke-linecap="butt"/>
<polygon points="1305.0,897.0 1341.0,890.0 1333.8,897.0 1341.0,904.0" fill="#1b1b1b"/>
<polygon points="1897.0,897.0 1861.0,904.0 1868.2,897.0 1861.0,890.0" fill="#1b1b1b"/>
<line x1="1251.5" y1="630.0" x2="1251.5" y2="977.0" stroke="#1b1b1b" stroke-width="3.0" stroke-linecap="butt"/>
<line x1="1944.0" y1="629.0" x2="1943.5" y2="973.0" stroke="#1b1b1b" stroke-width="3.0" stroke-linecap="butt"/>
<line x1="1251.0" y1="963.0" x2="1943.0" y2="963.0" stroke="#1b1b1b" stroke-width="3.0" stroke-linecap="butt"/>
<polygon points="1251.5,963.0 1287.5,956.0 1280.3,963.0 1287.5,970.0" fill="#1b1b1b"/>
<polygon points="1943.5,963.0 1907.5,970.0 1914.7,963.0 1907.5,956.0" fill="#1b1b1b"/>
<rect x="37.0" y="1000.0" width="315.0" height="72.0" rx="13" fill="none" stroke="#1b1b1b" stroke-width="9.2"/>
<rect x="820.0" y="1077.0" width="297.0" height="68.0" rx="13" fill="none" stroke="#1b1b1b" stroke-width="9.2"/>
<rect x="40.0" y="1587.0" width="318.0" height="75.0" rx="13" fill="none" stroke="#1b1b1b" stroke-width="9.2"/>
<rect x="822.0" y="1517.0" width="300.0" height="68.0" rx="13" fill="none" stroke="#1b1b1b" stroke-width="9.2"/>
<line x1="15.0" y1="1036.7" x2="32.0" y2="1036.7" stroke="#1b1b1b" stroke-width="3.0" stroke-linecap="butt"/>
<line x1="42.0" y1="1036.7" x2="105.0" y2="1036.7" stroke="#1b1b1b" stroke-width="3.0" stroke-linecap="butt"/>
<line x1="118.0" y1="1036.7" x2="128.0" y2="1036.7" stroke="#1b1b1b" stroke-width="3.0" stroke-linecap="butt"/>
<line x1="140.0" y1="1036.7" x2="262.0" y2="1036.7" stroke="#1b1b1b" stroke-width="3.0" stroke-linecap="butt"/>
<line x1="276.0" y1="1036.7" x2="286.0" y2="1036.7" stroke="#1b1b1b" stroke-width="3.0" stroke-linecap="butt"/>
<line x1="298.0" y1="1036.7" x2="370.0" y2="1036.7" stroke="#1b1b1b" stroke-width="3.0" stroke-linecap="butt"/>
<line x1="200.0" y1="982.0" x2="200.0" y2="1077.0" stroke="#1b1b1b" stroke-width="3.0" stroke-linecap="butt"/>
<line x1="823.0" y1="1106.0" x2="965.0" y2="1106.0" stroke="#1b1b1b" stroke-width="3.0" stroke-linecap="butt"/>
<line x1="975.0" y1="1106.0" x2="985.0" y2="1106.0" stroke="#1b1b1b" stroke-width="3.0" stroke-linecap="butt"/>
<line x1="995.0" y1="1106.0" x2="1137.0" y2="1106.0" stroke="#1b1b1b" stroke-width="3.0" stroke-linecap="butt"/>
<line x1="976.0" y1="1055.0" x2="976.5" y2="1153.0" stroke="#1b1b1b" stroke-width="3.0" stroke-linecap="butt"/>
<line x1="22.0" y1="1625.0" x2="35.0" y2="1625.0" stroke="#1b1b1b" stroke-width="3.0" stroke-linecap="butt"/>
<line x1="45.0" y1="1625.0" x2="95.0" y2="1625.0" stroke="#1b1b1b" stroke-width="3.0" stroke-linecap="butt"/>
<line x1="105.0" y1="1625.0" x2="115.0" y2="1625.0" stroke="#1b1b1b" stroke-width="3.0" stroke-linecap="butt"/>
<line x1="125.0" y1="1625.0" x2="268.0" y2="1625.0" stroke="#1b1b1b" stroke-width="3.0" stroke-linecap="butt"/>
<line x1="278.0" y1="1625.0" x2="288.0" y2="1625.0" stroke="#1b1b1b" stroke-width="3.0" stroke-linecap="butt"/>
<line x1="298.0" y1="1625.0" x2="388.0" y2="1625.0" stroke="#1b1b1b" stroke-width="3.0" stroke-linecap="butt"/>
<line x1="203.0" y1="1580.0" x2="203.5" y2="1790.0" stroke="#1b1b1b" stroke-width="3.0" stroke-linecap="butt"/>
<line x1="823.0" y1="1548.0" x2="935.0" y2="1548.0" stroke="#1b1b1b" stroke-width="3.0" stroke-linecap="butt"/>
<line x1="945.0" y1="1548.0" x2="958.0" y2="1548.0" stroke="#1b1b1b" stroke-width="3.0" stroke-linecap="butt"/>
<line x1="968.0" y1="1548.0" x2="1137.0" y2="1548.0" stroke="#1b1b1b" stroke-width="3.0" stroke-linecap="butt"/>
<line x1="977.0" y1="1507.0" x2="977.0" y2="1600.0" stroke="#1b1b1b" stroke-width="3.0" stroke-linecap="butt"/>
<line x1="230.0" y1="1097.0" x2="813.0" y2="1096.0" stroke="#1b1b1b" stroke-width="9.66" stroke-linecap="butt"/>
<line x1="230.0" y1="1122.5" x2="813.0" y2="1123.0" stroke="#1b1b1b" stroke-width="9.2" stroke-linecap="butt"/>
<line x1="232.0" y1="1110.5" x2="318.0" y2="1110.5" stroke="#1b1b1b" stroke-width="3.0" stroke-linecap="butt"/>
<line x1="326.0" y1="1110.5" x2="334.0" y2="1110.5" stroke="#1b1b1b" stroke-width="3.0" stroke-linecap="butt"/>
<line x1="342.0" y1="1110.5" x2="445.0" y2="1110.5" stroke="#1b1b1b" stroke-width="3.0" stroke-linecap="butt"/>
<line x1="535.0" y1="1110.5" x2="600.0" y2="1110.5" stroke="#1b1b1b" stroke-width="3.0" stroke-linecap="butt"/>
<line x1="608.0" y1="1110.5" x2="616.0" y2="1110.5" stroke="#1b1b1b" stroke-width="3.0" stroke-linecap="butt"/>
<line x1="624.0" y1="1110.5" x2="700.0" y2="1110.5" stroke="#1b1b1b" stroke-width="3.0" stroke-linecap="butt"/>
<line x1="708.0" y1="1110.5" x2="716.0" y2="1110.5" stroke="#1b1b1b" stroke-width="3.0" stroke-linecap="butt"/>
<line x1="724.0" y1="1110.5" x2="808.0" y2="1110.5" stroke="#1b1b1b" stroke-width="3.0" stroke-linecap="butt"/>
<path d="M232 1535 L600 1533 L813 1528" fill="none" stroke="#1b1b1b" stroke-width="9.2" stroke-linejoin="round" stroke-linecap="butt"/>
<path d="M232 1563 L600 1560.5 L813 1557" fill="none" stroke="#1b1b1b" stroke-width="9.2" stroke-linejoin="round" stroke-linecap="butt"/>
<line x1="292.0" y1="1548.2" x2="318.7" y2="1548.1" stroke="#1b1b1b" stroke-width="3.0" stroke-linecap="butt"/>
<line x1="329.6" y1="1548.0" x2="340.5" y2="1548.0" stroke="#1b1b1b" stroke-width="3.0" stroke-linecap="butt"/>
<line x1="352.0" y1="1547.9" x2="440.0" y2="1547.5" stroke="#1b1b1b" stroke-width="3.0" stroke-linecap="butt"/>
<line x1="540.0" y1="1547.0" x2="600.0" y2="1546.7" stroke="#1b1b1b" stroke-width="3.0" stroke-linecap="butt"/>
<line x1="608.0" y1="1546.6" x2="616.0" y2="1546.6" stroke="#1b1b1b" stroke-width="3.0" stroke-linecap="butt"/>
<line x1="624.0" y1="1546.5" x2="700.0" y2="1546.2" stroke="#1b1b1b" stroke-width="3.0" stroke-linecap="butt"/>
<line x1="708.0" y1="1546.1" x2="716.0" y2="1546.1" stroke="#1b1b1b" stroke-width="3.0" stroke-linecap="butt"/>
<line x1="724.0" y1="1546.0" x2="808.0" y2="1545.6" stroke="#1b1b1b" stroke-width="3.0" stroke-linecap="butt"/>
<line x1="452.0" y1="1122.0" x2="452.0" y2="1535.0" stroke="#1b1b1b" stroke-width="8.74" stroke-linecap="butt"/>
<line x1="526.0" y1="1122.0" x2="526.0" y2="1535.0" stroke="#1b1b1b" stroke-width="8.74" stroke-linecap="butt"/>
<line x1="476.7" y1="1138.0" x2="476.7" y2="1520.0" stroke="#1b1b1b" stroke-width="8.74" stroke-linecap="butt"/>
<line x1="504.0" y1="1138.0" x2="504.0" y2="1520.0" stroke="#1b1b1b" stroke-width="8.74" stroke-linecap="butt"/>
<path d="M457 1140 L457 1122 Q456 1110 450 1101 L479 1101 Q473 1110 472 1122 L472 1140 Z" fill="#fff"/>
<path d="M452.3 1140 L452.3 1125 Q452 1112 447 1103" fill="none" stroke="#1b1b1b" stroke-width="8.74" stroke-linejoin="round" stroke-linecap="butt"/>
<path d="M476.7 1140 L476.7 1125 Q477 1112 482 1103" fill="none" stroke="#1b1b1b" stroke-width="8.74" stroke-linejoin="round" stroke-linecap="butt"/>
<path d="M508.6 1140 L508.6 1122 Q507.6 1110 501.6 1101 L528 1101 Q522 1110 521 1122 L521 1140 Z" fill="#fff"/>
<path d="M503.90000000000003 1140 L503.90000000000003 1125 Q503.6 1112 498.6 1103" fill="none" stroke="#1b1b1b" stroke-width="8.74" stroke-linejoin="round" stroke-linecap="butt"/>
<path d="M525.7 1140 L525.7 1125 Q526 1112 531 1103" fill="none" stroke="#1b1b1b" stroke-width="8.74" stroke-linejoin="round" stroke-linecap="butt"/>
<rect x="484" y="1103.0" width="10" height="14" rx="3" fill="#fff"/>
<path d="M457 1515 L457 1533 Q456 1545 450 1553 L479 1553 Q473 1545 472 1533 L472 1515 Z" fill="#fff"/>
<path d="M452.3 1515 L452.3 1530 Q452 1543 447 1551" fill="none" stroke="#1b1b1b" stroke-width="8.74" stroke-linejoin="round" stroke-linecap="butt"/>
<path d="M476.7 1515 L476.7 1530 Q477 1543 482 1551" fill="none" stroke="#1b1b1b" stroke-width="8.74" stroke-linejoin="round" stroke-linecap="butt"/>
<path d="M508.6 1515 L508.6 1533 Q507.6 1545 501.6 1553 L528 1553 Q522 1545 521 1533 L521 1515 Z" fill="#fff"/>
<path d="M503.90000000000003 1515 L503.90000000000003 1530 Q503.6 1543 498.6 1551" fill="none" stroke="#1b1b1b" stroke-width="8.74" stroke-linejoin="round" stroke-linecap="butt"/>
<path d="M525.7 1515 L525.7 1530 Q526 1543 531 1551" fill="none" stroke="#1b1b1b" stroke-width="8.74" stroke-linejoin="round" stroke-linecap="butt"/>
<rect x="484" y="1538.0" width="10" height="14" rx="3" fill="#fff"/>
<rect x="481.0" y="1187.0" width="19.0" height="18.0" rx="0" fill="#1b1b1b"/>
<rect x="481.0" y="1447.0" width="19.0" height="6.0" rx="0" fill="#1b1b1b"/>
<rect x="481.0" y="1461.0" width="19.0" height="6.0" rx="0" fill="#1b1b1b"/>
<path d="M452 1203.9 A127.5 127.5 0 0 0 452 1447.1" fill="none" stroke="#1b1b1b" stroke-width="17.48" stroke-linejoin="round" stroke-linecap="butt"/>
<path d="M371 1366 A122.5 122.5 0 0 0 452 1441.8" fill="none" stroke="#fff" stroke-width="2" stroke-linejoin="round" stroke-linecap="butt"/>
<path d="M368 1330 A122.5 122.5 0 0 0 371 1366" fill="none" stroke="#bbb" stroke-width="1.2" stroke-linejoin="round" stroke-linecap="butt"/>
<circle cx="493.5" cy="1326.0" r="41.5" fill="#fff" stroke="#1b1b1b" stroke-width="8.28"/>
<line x1="749.0" y1="1127.0" x2="749.0" y2="1530.0" stroke="#1b1b1b" stroke-width="7.82" stroke-linecap="butt"/>
<line x1="812.0" y1="1127.0" x2="812.0" y2="1530.0" stroke="#1b1b1b" stroke-width="7.82" stroke-linecap="butt"/>
<line x1="749.0" y1="1130.0" x2="812.0" y2="1130.0" stroke="#1b1b1b" stroke-width="5.52" stroke-linecap="butt"/>
<line x1="749.0" y1="1527.0" x2="812.0" y2="1527.0" stroke="#1b1b1b" stroke-width="5.52" stroke-linecap="butt"/>
<line x1="760.0" y1="1246.0" x2="760.0" y2="1408.0" stroke="#1b1b1b" stroke-width="3.5" stroke-linecap="butt"/>
<line x1="803.0" y1="1232.0" x2="803.0" y2="1420.0" stroke="#1b1b1b" stroke-width="3.5" stroke-linecap="butt"/>
<circle cx="767.0" cy="1087.0" r="4.5" fill="none" stroke="#1b1b1b" stroke-width="4"/>
<circle cx="802.0" cy="1087.0" r="4.5" fill="none" stroke="#1b1b1b" stroke-width="4"/>
<circle cx="767.0" cy="1142.0" r="4.5" fill="none" stroke="#1b1b1b" stroke-width="4"/>
<circle cx="802.0" cy="1142.0" r="4.5" fill="none" stroke="#1b1b1b" stroke-width="4"/>
<circle cx="767.0" cy="1510.0" r="4.5" fill="none" stroke="#1b1b1b" stroke-width="4"/>
<circle cx="802.0" cy="1510.0" r="4.5" fill="none" stroke="#1b1b1b" stroke-width="4"/>
<circle cx="767.0" cy="1565.0" r="4.5" fill="none" stroke="#1b1b1b" stroke-width="4"/>
<circle cx="802.0" cy="1565.0" r="4.5" fill="none" stroke="#1b1b1b" stroke-width="4"/>
<path d="M574.5 1300.6 L954.5 1187.7 L949.5 1171.1 L569.5 1284.0 Z" fill="#fff" stroke="#fff" stroke-width="0.1" stroke-linejoin="round" stroke-linecap="round"/>
<line x1="574.5" y1="1300.6" x2="954.5" y2="1187.7" stroke="#1b1b1b" stroke-width="7.82" stroke-linecap="butt"/>
<line x1="569.5" y1="1284.0" x2="949.5" y2="1171.1" stroke="#1b1b1b" stroke-width="7.82" stroke-linecap="butt"/>
<path d="M569.8 1376.2 L952.8 1478.2 L957.2 1461.8 L574.2 1359.8 Z" fill="#fff" stroke="#fff" stroke-width="0.1" stroke-linejoin="round" stroke-linecap="round"/>
<line x1="569.8" y1="1376.2" x2="952.8" y2="1478.2" stroke="#1b1b1b" stroke-width="7.82" stroke-linecap="butt"/>
<line x1="574.2" y1="1359.8" x2="957.2" y2="1461.8" stroke="#1b1b1b" stroke-width="7.82" stroke-linecap="butt"/>
<path d="M540 1302 Q548 1276 575 1272" fill="none" stroke="#1b1b1b" stroke-width="8.28" stroke-linejoin="round" stroke-linecap="butt"/>
<path d="M545 1302 Q556 1290 578 1288 " fill="none" stroke="#1b1b1b" stroke-width="6.44" stroke-linejoin="round" stroke-linecap="butt"/>
<path d="M540 1351 Q548 1378 575 1381" fill="none" stroke="#1b1b1b" stroke-width="8.28" stroke-linejoin="round" stroke-linecap="butt"/>
<path d="M545 1351 Q556 1362 578 1366" fill="none" stroke="#1b1b1b" stroke-width="6.44" stroke-linejoin="round" stroke-linecap="butt"/>
<rect x="585.0" y="1270.0" width="9.0" height="30.0" rx="0" fill="#fff"/>
<rect x="600.0" y="1268.0" width="6.0" height="28.0" rx="0" fill="#fff"/>
<rect x="585.0" y="1355.0" width="9.0" height="31.0" rx="0" fill="#fff"/>
<rect x="600.0" y="1360.0" width="6.0" height="28.0" rx="0" fill="#fff"/>
<path d="M621 1305.5 L494 1305.5 A20.5 20.5 0 0 0 494 1346.5 L621 1346.5 Z" fill="#fff" stroke="#1b1b1b" stroke-width="8.28" stroke-linejoin="miter" stroke-linecap="round"/>
<rect x="517.5" y="1320.2" width="81.0" height="14.3" rx="0" fill="#1b1b1b" stroke="#1b1b1b" stroke-width="6.44"/>
<rect x="521.0" y="1323.2" width="28.0" height="7.3" rx="0" fill="#fff"/>
<rect x="559.0" y="1323.2" width="35.5" height="7.3" rx="0" fill="#fff"/>
<circle cx="494.0" cy="1326.7" r="2.0" fill="#1b1b1b" stroke="#1b1b1b" stroke-width="0"/>
<line x1="967.0" y1="1205.0" x2="967.0" y2="1448.0" stroke="#1b1b1b" stroke-width="7.82" stroke-linecap="butt"/>
<line x1="987.0" y1="1205.0" x2="987.0" y2="1448.0" stroke="#1b1b1b" stroke-width="7.82" stroke-linecap="butt"/>
<rect x="967.0" y="1382.0" width="20.0" height="58.0" rx="0" fill="#1b1b1b"/>
<rect x="955.0" y="1158.0" width="43.0" height="42.0" rx="3" fill="#fff" stroke="#1b1b1b" stroke-width="9.2"/>
<line x1="958.0" y1="1177.0" x2="996.0" y2="1177.0" stroke="#1b1b1b" stroke-width="3" stroke-linecap="butt"/>
<rect x="958.0" y="1453.0" width="42.0" height="45.0" rx="3" fill="#fff" stroke="#1b1b1b" stroke-width="9.2"/>
<line x1="960.0" y1="1473.0" x2="998.0" y2="1473.0" stroke="#1b1b1b" stroke-width="3" stroke-linecap="butt"/>
<line x1="970.0" y1="1149.0" x2="970.0" y2="1155.0" stroke="#1b1b1b" stroke-width="4" stroke-linecap="butt"/>
<line x1="984.0" y1="1149.0" x2="984.0" y2="1155.0" stroke="#1b1b1b" stroke-width="4" stroke-linecap="butt"/>
<line x1="970.0" y1="1503.0" x2="970.0" y2="1513.0" stroke="#1b1b1b" stroke-width="4" stroke-linecap="butt"/>
<line x1="984.0" y1="1503.0" x2="984.0" y2="1513.0" stroke="#1b1b1b" stroke-width="4" stroke-linecap="butt"/>
<rect x="175.0" y="1082.0" width="50.0" height="70.0" rx="5" fill="#fff" stroke="#1b1b1b" stroke-width="9.2"/>
<rect x="172.0" y="1133.0" width="56.0" height="24.0" rx="4" fill="#1b1b1b"/>
<line x1="184.0" y1="1145.0" x2="216.0" y2="1145.0" stroke="#fff" stroke-width="2" stroke-linecap="butt"/>
<line x1="200.0" y1="1090.0" x2="200.0" y2="1100.0" stroke="#1b1b1b" stroke-width="3.0" stroke-linecap="butt"/>
<line x1="186.0" y1="1110.0" x2="214.0" y2="1110.0" stroke="#1b1b1b" stroke-width="3.0" stroke-linecap="butt"/>
<line x1="190.5" y1="1157.0" x2="190.5" y2="1173.0" stroke="#1b1b1b" stroke-width="7.36" stroke-linecap="butt"/>
<line x1="208.5" y1="1157.0" x2="208.5" y2="1173.0" stroke="#1b1b1b" stroke-width="7.36" stroke-linecap="butt"/>
<rect x="165.0" y="1177.0" width="70.0" height="108.0" rx="2" fill="none" stroke="#1b1b1b" stroke-width="9.2"/>
<circle cx="180.0" cy="1200.0" r="5.5" fill="none" stroke="#1b1b1b" stroke-width="4.5"/>
<circle cx="222.0" cy="1197.0" r="5.5" fill="none" stroke="#1b1b1b" stroke-width="4.5"/>
<circle cx="182.0" cy="1268.0" r="5.5" fill="none" stroke="#1b1b1b" stroke-width="4.5"/>
<circle cx="222.0" cy="1267.0" r="5.5" fill="none" stroke="#1b1b1b" stroke-width="4.5"/>
<line x1="192.0" y1="1290.0" x2="192.0" y2="1365.0" stroke="#1b1b1b" stroke-width="8.74" stroke-linecap="butt"/>
<line x1="211.7" y1="1290.0" x2="211.7" y2="1365.0" stroke="#1b1b1b" stroke-width="8.74" stroke-linecap="butt"/>
<line x1="200.0" y1="1292.0" x2="200.0" y2="1362.0" stroke="#1b1b1b" stroke-width="2" stroke-linecap="butt"/>
<line x1="203.8" y1="1292.0" x2="203.8" y2="1362.0" stroke="#1b1b1b" stroke-width="2" stroke-linecap="butt"/>
<path d="M224.8 1421 L224.8 1368.7 L179.6 1368.7 L179.6 1474.3 L224.8 1474.3 L224.8 1438.7" fill="none" stroke="#1b1b1b" stroke-width="9.66" stroke-linejoin="miter" stroke-linecap="butt"/>
<rect x="194.0" y="1402.4" width="17.3" height="53.6" rx="0" fill="#1b1b1b"/>
<rect x="196.8" y="1373.0" width="10.2" height="23.0" rx="0" fill="#1b1b1b"/>
<line x1="193.0" y1="1400.0" x2="212.0" y2="1400.0" stroke="#1b1b1b" stroke-width="3" stroke-linecap="butt"/>
<line x1="198.0" y1="1457.0" x2="198.0" y2="1470.0" stroke="#1b1b1b" stroke-width="3.5" stroke-linecap="butt"/>
<line x1="207.5" y1="1457.0" x2="207.5" y2="1470.0" stroke="#1b1b1b" stroke-width="3.5" stroke-linecap="butt"/>
<line x1="214.0" y1="1438.7" x2="230.0" y2="1438.7" stroke="#1b1b1b" stroke-width="4" stroke-linecap="butt"/>
<line x1="193.0" y1="1479.0" x2="193.0" y2="1501.0" stroke="#1b1b1b" stroke-width="7.82" stroke-linecap="butt"/>
<line x1="213.0" y1="1479.0" x2="213.0" y2="1501.0" stroke="#1b1b1b" stroke-width="7.36" stroke-linecap="butt"/>
<line x1="203.0" y1="1481.0" x2="203.0" y2="1500.0" stroke="#1b1b1b" stroke-width="3" stroke-linecap="butt"/>
<rect x="179.3" y="1506.0" width="47.3" height="71.5" rx="4" fill="#fff" stroke="#1b1b1b" stroke-width="9.2"/>
<rect x="176.0" y="1501.0" width="54.0" height="26.3" rx="3" fill="#1b1b1b"/>
<line x1="184.4" y1="1514.2" x2="220.0" y2="1514.2" stroke="#fff" stroke-width="4.4" stroke-linecap="butt"/>
<line x1="203.3" y1="1527.0" x2="203.3" y2="1572.0" stroke="#1b1b1b" stroke-width="3.0" stroke-linecap="butt"/>
<line x1="187.0" y1="1548.6" x2="221.5" y2="1548.6" stroke="#1b1b1b" stroke-width="3.0" stroke-linecap="butt"/>
<rect x="110.0" y="1198.0" width="45.0" height="12.0" rx="2" fill="#1b1b1b"/>
<line x1="127.0" y1="1212.0" x2="127.0" y2="1287.0" stroke="#1b1b1b" stroke-width="3" stroke-linecap="butt"/>
<polygon points="127.0,1211.0 136.0,1247.0 127.0,1239.8 118.0,1247.0" fill="#1b1b1b"/>
<rect x="250.0" y="1198.0" width="52.0" height="12.0" rx="2" fill="#1b1b1b"/>
<line x1="286.0" y1="1212.0" x2="286.0" y2="1290.0" stroke="#1b1b1b" stroke-width="3" stroke-linecap="butt"/>
<polygon points="286.0,1211.0 295.0,1247.0 286.0,1239.8 277.0,1247.0" fill="#1b1b1b"/>
<line x1="250.0" y1="1423.5" x2="315.8" y2="1424.0" stroke="#1b1b1b" stroke-width="3" stroke-linecap="butt"/>
<polygon points="211.5,1423.5 257.5,1413.5 248.3,1423.5 257.5,1433.5" fill="#1b1b1b"/>
<rect x="198.0" y="1672.0" width="12.0" height="63.0" rx="0" fill="#1b1b1b"/>
<line x1="212.0" y1="1713.0" x2="323.0" y2="1713.0" stroke="#1b1b1b" stroke-width="3" stroke-linecap="butt"/>
<polygon points="212.0,1713.0 250.0,1706.0 242.4,1713.0 250.0,1720.0" fill="#1b1b1b"/>
<line x1="203.0" y1="1772.0" x2="495.0" y2="1772.0" stroke="#1b1b1b" stroke-width="3.0" stroke-linecap="butt"/>
<polygon points="203.5,1772.0 239.5,1765.0 232.3,1772.0 239.5,1779.0" fill="#1b1b1b"/>
<polygon points="495.0,1772.0 459.0,1779.0 466.2,1772.0 459.0,1765.0" fill="#1b1b1b"/>
<line x1="495.0" y1="1563.0" x2="495.5" y2="1790.0" stroke="#1b1b1b" stroke-width="3.0" stroke-linecap="butt"/>
<line x1="543.0" y1="940.0" x2="543.0" y2="1005.0" stroke="#1b1b1b" stroke-width="3" stroke-linecap="butt"/>
<polygon points="543.0,922.0 549.5,962.0 543.0,954.0 536.5,962.0" fill="#1b1b1b"/>
<line x1="683.0" y1="1030.0" x2="852.0" y2="1030.0" stroke="#1b1b1b" stroke-width="5" stroke-linecap="round"/>
<line x1="875.0" y1="1282.0" x2="962.0" y2="1282.0" stroke="#1b1b1b" stroke-width="3.0" stroke-linecap="butt"/>
<polygon points="963.0,1282.0 931.0,1288.0 937.4,1282.0 931.0,1276.0" fill="#1b1b1b"/>
<line x1="991.0" y1="1282.0" x2="1045.0" y2="1282.0" stroke="#1b1b1b" stroke-width="3.0" stroke-linecap="butt"/>
<polygon points="991.0,1282.0 1023.0,1276.0 1016.6,1282.0 1023.0,1288.0" fill="#1b1b1b"/>
<line x1="1003.0" y1="1178.0" x2="1087.0" y2="1178.0" stroke="#1b1b1b" stroke-width="3.0" stroke-linecap="butt"/>
<line x1="1005.0" y1="1475.0" x2="1090.0" y2="1475.0" stroke="#1b1b1b" stroke-width="3.0" stroke-linecap="butt"/>
<line x1="1078.0" y1="1178.0" x2="1078.5" y2="1475.0" stroke="#1b1b1b" stroke-width="3.0" stroke-linecap="butt"/>
<polygon points="1078.0,1178.0 1084.5,1216.0 1078.0,1208.4 1071.5,1216.0" fill="#1b1b1b"/>
<polygon points="1078.5,1475.0 1072.0,1437.0 1078.5,1444.6 1085.0,1437.0" fill="#1b1b1b"/>
<line x1="883.0" y1="1402.0" x2="965.0" y2="1402.0" stroke="#1b1b1b" stroke-width="3" stroke-linecap="butt"/>
<polygon points="965.0,1402.0 935.0,1408.0 941.0,1402.0 935.0,1396.0" fill="#1b1b1b"/>
<rect x="972.0" y="1600.0" width="13.0" height="55.0" rx="0" fill="#1b1b1b"/>
<line x1="885.0" y1="1635.0" x2="972.0" y2="1635.0" stroke="#1b1b1b" stroke-width="3" stroke-linecap="butt"/>
<polygon points="972.0,1635.0 942.0,1641.0 948.0,1635.0 942.0,1629.0" fill="#1b1b1b"/>
<g class="t">
<text transform="translate(411.0,727.0) skewX(-7)" font-size="47.5" style="font-style:italic;" textLength="103.9" lengthAdjust="spacingAndGlyphs" stroke="#1b1b1b" stroke-width="1.3">&#248;220</text>
<text transform="translate(363.0,462.0) skewX(-7)" font-size="51.7" style="font-style:italic;" textLength="75.6" lengthAdjust="spacingAndGlyphs" stroke="#1b1b1b" stroke-width="1.3">430</text>
<text transform="translate(674.0,542.0) skewX(-7)" font-size="51.7" style="font-style:italic;" textLength="70.6" lengthAdjust="spacingAndGlyphs" stroke="#1b1b1b" stroke-width="1.3">330</text>
<text transform="translate(622.0,208.0) skewX(-7)" font-size="57.3" style="font-style:italic;" textLength="70.1" lengthAdjust="spacingAndGlyphs" stroke="#1b1b1b" stroke-width="1.3">180</text>
<text transform="translate(549.0,845.5) skewX(-7)" font-size="57.3" style="font-style:italic;" textLength="82.1" lengthAdjust="spacingAndGlyphs" stroke="#1b1b1b" stroke-width="1.3">540</text>
<text transform="translate(610.0,906.0) skewX(-7)" font-size="60.1" style="font-style:italic;" textLength="73.8" lengthAdjust="spacingAndGlyphs" stroke="#1b1b1b" stroke-width="1.3">760</text>
<text transform="translate(1054.0,203.0) rotate(-90) skewX(-7)" font-size="53.1" style="font-style:italic;" textLength="70.4" lengthAdjust="spacingAndGlyphs" stroke="#1b1b1b" stroke-width="1.3">540</text>
<text transform="translate(916.0,138.0) rotate(-90) skewX(-7)" font-size="51.7" style="font-style:italic;" textLength="66.6" lengthAdjust="spacingAndGlyphs" stroke="#1b1b1b" stroke-width="1.3">120</text>
<text transform="translate(859.0,262.0) rotate(6) translate(-23.0,18.0) skewX(-7)" font-size="50.3" style="font-style:italic;" textLength="46.0" lengthAdjust="spacingAndGlyphs" stroke="#1b1b1b" stroke-width="1.3">75</text>
<text transform="translate(985.0,299.0) rotate(-49) translate(-42.0,17.0) skewX(-7)" font-size="47.5" style="font-style:italic;" textLength="84.0" lengthAdjust="spacingAndGlyphs" stroke="#1b1b1b" stroke-width="1.3">R85</text>
<text transform="translate(27.0,277.0) skewX(-7)" font-size="51.7" style="font-style:italic;" textLength="76.6" lengthAdjust="spacingAndGlyphs" stroke="#1b1b1b" stroke-width="1.3">R85</text>
<text transform="translate(225.1,98.0)" font-size="71.2" style="font-weight:bold;" textLength="24.8" lengthAdjust="spacingAndGlyphs" stroke="#1b1b1b" stroke-width="0">3</text>
<text transform="translate(73.0,378.0)" font-size="69.8" style="font-weight:bold;" textLength="26.0" lengthAdjust="spacingAndGlyphs" stroke="#1b1b1b" stroke-width="0">5</text>
<text transform="translate(658.6,92.0)" font-size="68.4" style="font-weight:bold;" textLength="17.7" lengthAdjust="spacingAndGlyphs" stroke="#1b1b1b" stroke-width="0">1</text>
<text transform="translate(827.2,95.0)" font-size="69.8" style="font-weight:bold;" textLength="23.6" lengthAdjust="spacingAndGlyphs" stroke="#1b1b1b" stroke-width="0">2</text>
<text transform="translate(1016.1,393.0)" font-size="76.8" style="font-weight:bold;" textLength="24.8" lengthAdjust="spacingAndGlyphs" stroke="#1b1b1b" stroke-width="0">4</text>
<text transform="translate(688.9,719.0)" font-size="75.4" style="font-weight:bold;" textLength="27.1" lengthAdjust="spacingAndGlyphs" stroke="#1b1b1b" stroke-width="0">6</text>
<text transform="translate(1141.0,528.5) rotate(-90) skewX(-7)" font-size="55.9" style="font-style:italic;" textLength="73.7" lengthAdjust="spacingAndGlyphs" stroke="#1b1b1b" stroke-width="1.3">325</text>
<text transform="translate(1196.0,731.0) rotate(-90) skewX(-7)" font-size="50.3" style="font-style:italic;" textLength="55.7" lengthAdjust="spacingAndGlyphs" stroke="#1b1b1b" stroke-width="1.3">110</text>
<text transform="translate(1629.8,477.0) skewX(-7)" font-size="50.3" style="font-style:italic;font-weight:bold;" textLength="24.0" lengthAdjust="spacingAndGlyphs" stroke="#1b1b1b" stroke-width="0.3">A</text>
<text transform="translate(1630.0,184.4) skewX(-7)" font-size="48.0" style="font-style:italic;font-weight:bold;" textLength="26.2" lengthAdjust="spacingAndGlyphs" stroke="#1b1b1b" stroke-width="0.3">A</text>
<text transform="translate(1674.3,271.0) rotate(-90) skewX(-7)" font-size="51.5" style="font-style:italic;" textLength="58.1" lengthAdjust="spacingAndGlyphs" stroke="#1b1b1b" stroke-width="1.3">210</text>
<text transform="translate(1858.6,449.0) skewX(-7)" font-size="55.9" style="font-style:italic;font-weight:bold;" textLength="27.1" lengthAdjust="spacingAndGlyphs" stroke="#1b1b1b" stroke-width="0.3">E</text>
<text transform="translate(1871.8,762.0) skewX(-7)" font-size="53.8" style="font-style:italic;font-weight:bold;" textLength="24.9" lengthAdjust="spacingAndGlyphs" stroke="#1b1b1b" stroke-width="0.3">E</text>
<text transform="translate(1871.3,233.0) skewX(-7)" font-size="71.2" style="font-style:italic;font-weight:bold;" textLength="16.3" lengthAdjust="spacingAndGlyphs" stroke="#1b1b1b" stroke-width="0">7</text>
<text transform="translate(1255.9,237.0) skewX(-7)" font-size="72.6" style="font-style:italic;font-weight:bold;" textLength="20.9" lengthAdjust="spacingAndGlyphs" stroke="#1b1b1b" stroke-width="0">8</text>
<text transform="translate(1309.0,765.5) skewX(-7)" font-size="58.0" style="font-style:italic;" textLength="48.0" lengthAdjust="spacingAndGlyphs" stroke="#1b1b1b" stroke-width="1.3">40</text>
<text transform="translate(1617.0,815.0) skewX(-7)" font-size="57.3" style="font-style:italic;" textLength="73.1" lengthAdjust="spacingAndGlyphs" stroke="#1b1b1b" stroke-width="1.3">320</text>
<text transform="translate(1547.0,885.0) skewX(-7)" font-size="60.1" style="font-style:italic;" textLength="74.8" lengthAdjust="spacingAndGlyphs" stroke="#1b1b1b" stroke-width="1.3">430</text>
<text transform="translate(1592.0,949.0) skewX(-7)" font-size="54.5" style="font-style:italic;" textLength="76.3" lengthAdjust="spacingAndGlyphs" stroke="#1b1b1b" stroke-width="1.3">490</text>
<text transform="translate(90.7,1292.0) skewX(-7)" font-size="62.8" style="font-style:italic;font-weight:bold;" textLength="25.3" lengthAdjust="spacingAndGlyphs" stroke="#1b1b1b" stroke-width="0.3">&#1042;</text>
<text transform="translate(297.6,1294.5) skewX(-7)" font-size="60.8" style="font-style:italic;font-weight:bold;" textLength="26.6" lengthAdjust="spacingAndGlyphs" stroke="#1b1b1b" stroke-width="0.3">&#1042;</text>
<text transform="translate(268.1,1406.0) skewX(-7)" font-size="54.5" style="font-style:italic;font-weight:bold;" textLength="41.8" lengthAdjust="spacingAndGlyphs" stroke="#1b1b1b" stroke-width="0.3">&#1044;</text>
<text transform="translate(271.9,1756.0) skewX(-7)" font-size="46.1" style="font-style:italic;font-weight:bold;" textLength="37.3" lengthAdjust="spacingAndGlyphs" stroke="#1b1b1b" stroke-width="0.3">&#1044;</text>
<text transform="translate(350.0,1762.0) skewX(-7)" font-size="58.7" style="font-style:italic;" textLength="70.0" lengthAdjust="spacingAndGlyphs" stroke="#1b1b1b" stroke-width="1.3">195</text>
<text transform="translate(564.3,978.0) skewX(-7)" font-size="50.3" style="font-style:italic;font-weight:bold;" textLength="31.1" lengthAdjust="spacingAndGlyphs" stroke="#1b1b1b" stroke-width="0.3">&#1041;</text>
<text transform="translate(693.0,1022.0) skewX(-7)" font-size="65.6" style="font-style:italic;" textLength="133.4" lengthAdjust="spacingAndGlyphs" stroke="#1b1b1b" stroke-width="0.9">&#1042;&#1080;&#1076; &#1041;</text>
<text transform="translate(867.0,1273.0) skewX(-7)" font-size="50.3" style="font-style:italic;" textLength="65.7" lengthAdjust="spacingAndGlyphs" stroke="#1b1b1b" stroke-width="1.3">&#248;14</text>
<text transform="translate(1063.0,1413.0) rotate(-90) skewX(-7)" font-size="57.3" style="font-style:italic;" textLength="75.1" lengthAdjust="spacingAndGlyphs" stroke="#1b1b1b" stroke-width="1.3">235</text>
<text transform="translate(880.4,1385.0) skewX(-7)" font-size="58.7" style="font-style:italic;font-weight:bold;" textLength="29.2" lengthAdjust="spacingAndGlyphs" stroke="#1b1b1b" stroke-width="0.3">&#1043;</text>
<text transform="translate(885.4,1693.0) skewX(-7)" font-size="62.8" style="font-style:italic;font-weight:bold;" textLength="28.8" lengthAdjust="spacingAndGlyphs" stroke="#1b1b1b" stroke-width="0.3">&#1043;</text>
</g>
</svg>
</body></html>
